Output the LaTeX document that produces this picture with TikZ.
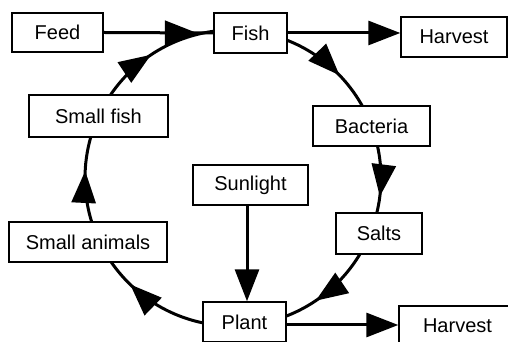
\documentclass[tikz,border=0pt]{standalone}
\usepackage{fontspec}
\setmainfont{Liberation Sans}
\usetikzlibrary{arrows.meta,decorations.markings}
\tikzset{
  box/.style={draw, line width=1.4pt, rectangle, inner sep=0pt, font=\fontsize{20}{24}\selectfont},
  flow/.style={line width=3pt},
  bigtip/.tip={Triangle[length=32pt,width=24pt]},
  endarrow/.style={flow, -bigtip},
  midarrow/.style={flow, postaction={decorate}, decoration={markings, mark=at position #1 with {\arrow{bigtip}}}}
}
\begin{document}
\begin{tikzpicture}[x=1pt,y=1pt]
\clip (0,0) rectangle (508,342);
\fill[white] (0,0) rectangle (508,342);
\coordinate (c) at (233,164);
% boxes
\node[box, minimum width=91pt, minimum height=39pt] (feed) at (57.5,309.5) {Feed};
\node[box, minimum width=73pt, minimum height=40pt] (fish) at (250.5,309) {Fish};
\node[box, minimum width=106pt, minimum height=40pt] (harvA) at (454,305) {Harvest};
\node[box, minimum width=139pt, minimum height=42pt] (sfish) at (98.5,226) {Small fish};
\node[box, minimum width=117pt, minimum height=40pt] (bact) at (371.5,216) {Bacteria};
\node[box, minimum width=115pt, minimum height=40pt] (sun) at (250.5,157) {Sunlight};
\node[box, minimum width=158pt, minimum height=40pt] (sanim) at (88,100) {Small animals};
\node[box, minimum width=86pt, minimum height=41pt] (salts) at (379,108.5) {Salts};
\node[box, minimum width=83pt, minimum height=40pt] (plant) at (244.5,20) {Plant};
\node[box, minimum width=117pt, minimum height=40pt] (harvB) at (457.5,16) {Harvest};
% cycle arcs
\draw[midarrow=0.46] (c) ++(145.9:148) arc[start angle=145.9, end angle=97.5, radius=148];
\draw[midarrow=0.62] (c) ++(68.3:148) arc[start angle=68.3, end angle=29.1, radius=148];
\draw[midarrow=0.75] (c) ++(12.5:148) arc[start angle=12.5, end angle=-13.7, radius=148];
\draw[midarrow=0.66] (c) ++(-30.9:148) arc[start angle=-30.9, end angle=-69, radius=148];
\draw[midarrow=0.74] (c) ++(-101.7:148) arc[start angle=-101.7, end angle=-145.4, radius=148];
\draw[midarrow=0.60] (c) ++(-162.7:148) arc[start angle=-162.7, end angle=-196.1, radius=148];
% straight arrows
\draw[midarrow=0.85] (feed.east) -- (fish.west);
\draw[endarrow] (fish.east) -- (fish.east -| harvA.west);
\draw[endarrow] ([xshift=-3.5pt]sun.south) -- ([xshift=-3.5pt]sun.south |- plant.north);
\draw[endarrow] ([yshift=-3pt]plant.east) -- ([yshift=-3pt]plant.east -| harvB.west);
\end{tikzpicture}
\end{document}
